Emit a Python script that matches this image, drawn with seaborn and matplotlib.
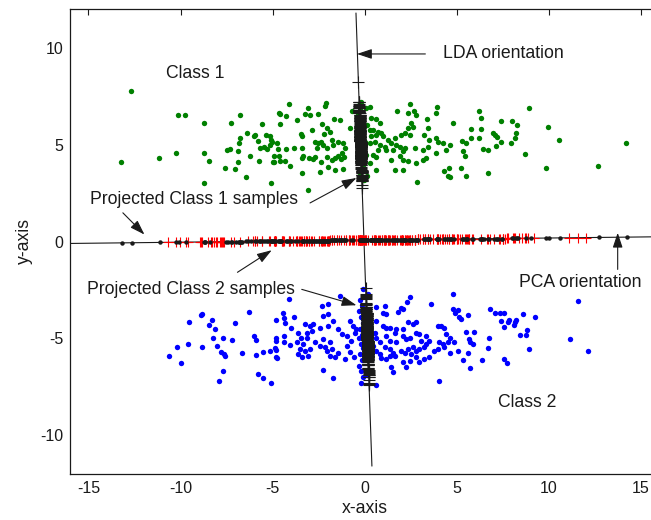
import numpy as np
import matplotlib
matplotlib.use("Agg")
import matplotlib.pyplot as plt
import seaborn as sns
import pandas as pd

# ---------------- data ----------------
class1_points = [
    (-12.70, 7.78), (-13.22, 4.08), (-11.15, 4.29), (-10.27, 4.58), (-10.13, 6.53), (-9.77, 6.53),
    (-8.74, 6.10), (-8.74, 4.58), (-8.44, 4.15), (-8.74, 3.03), (-7.27, 6.10), (-6.75, 6.53),
    (-6.39, 5.62), (-6.75, 5.33), (-6.84, 5.06), (-7.47, 4.72), (-7.32, 4.78), (-6.89, 4.65),
    (-6.89, 4.08), (-7.56, 3.81), (-7.05, 3.74), (-6.24, 4.42), (-6.46, 3.31), (-5.57, 6.05),
    (-5.99, 5.45), (-5.94, 5.49), (-5.81, 5.20), (-5.67, 4.84), (-5.45, 4.90), (-5.31, 4.77),
    (-5.13, 4.99), (-5.36, 5.50), (-5.16, 5.42), (-5.07, 5.25), (-5.72, 4.15), (-4.93, 4.08),
    (-5.07, 3.03), (-4.68, 6.62), (-4.59, 6.05),
    (-4.10, 7.08), (-4.62, 6.60), (-4.26, 6.47), (-3.09, 6.88), (-3.24, 6.60), (-2.95, 6.53),
    (-2.52, 6.60), (-2.10, 7.15), (-2.16, 7.01), (-3.67, 6.26), (-1.67, 6.33), (-1.35, 6.26),
    (-2.30, 6.05), (-2.07, 5.85), (-1.89, 5.64), (-2.21, 5.56), (-2.88, 5.76), (-3.47, 5.56),
    (-3.42, 5.42), (-5.04, 5.16), (-4.77, 5.08), (-4.26, 4.77), (-4.69, 4.77), (-3.82, 4.85),
    (-3.38, 4.85), (-2.68, 5.13), (-2.52, 5.08), (-2.39, 5.16), (-2.61, 4.82), (-2.25, 4.99),
    (-2.07, 4.82), (-1.80, 5.25), (-1.44, 5.13), (-1.20, 5.08), (-1.71, 4.99), (-1.08, 4.82),
    (-1.26, 4.56), (-0.81, 5.85), (-0.69, 6.74), (-4.91, 4.42), (-4.64, 4.42), (-4.98, 4.08),
    (-4.59, 4.13), (-4.33, 4.17), (-4.05, 3.91), (-3.42, 4.31), (-3.36, 4.39), (-3.02, 4.32),
    (-2.79, 4.25), (-2.71, 4.36), (-2.39, 4.08), (-2.07, 4.36), (-1.80, 4.22), (-1.62, 4.31),
    (-1.44, 4.42), (-1.31, 4.25), (-1.13, 4.36), (-3.38, 3.53), (-2.43, 3.60), (-1.98, 3.87),
    (-1.62, 3.67), (-1.17, 3.74), (-3.09, 2.67),
    (0.36, 6.36), (0.63, 6.31), (0.81, 6.10), (0.27, 5.76), (0.45, 5.76), (0.72, 5.67),
    (0.90, 5.59), (0.36, 5.42), (0.63, 5.50), (0.99, 5.42), (0.27, 5.08), (0.54, 5.16),
    (0.81, 4.99), (0.72, 4.73), (1.08, 4.90), (0.45, 4.48), (0.63, 4.36), (0.27, 4.05),
    (0.59, 3.67), (1.26, 5.25), (1.44, 5.08), (1.62, 5.33), (1.71, 4.99), (1.74, 6.74),
    (1.17, 4.73), (1.53, 4.73), (1.89, 4.90), (2.07, 4.65), (2.16, 4.82), (1.44, 4.22),
    (1.89, 4.39), (2.07, 4.22), (2.34, 4.13), (1.62, 3.67), (2.10, 3.67), (2.84, 3.05),
    (1.98, 5.50), (2.16, 5.59), (2.43, 5.50), (2.48, 7.08), (2.70, 6.74), (2.79, 6.53),
    (2.37, 6.62), (2.52, 6.10), (2.34, 5.85), (2.61, 5.93), (3.36, 6.33), (3.42, 5.85),
    (3.24, 5.50), (3.51, 5.25), (3.87, 5.33), (3.96, 5.16), (2.73, 4.82), (3.15, 4.73),
    (3.42, 4.90), (3.87, 4.56), (2.79, 4.05), (3.15, 4.22), (3.33, 4.31), (4.32, 3.62),
    (4.50, 3.36), (3.90, 6.93), (3.87, 6.62), (4.23, 5.08), (4.41, 4.73),
    (4.77, 6.10), (4.64, 4.99), (4.59, 3.79), (4.64, 3.31), (5.27, 5.20), (5.49, 5.08),
    (5.34, 4.65), (5.43, 4.42), (5.22, 3.79), (5.50, 3.38), (5.79, 5.83), (5.79, 5.33),
    (6.22, 6.74), (6.30, 6.39), (6.30, 5.83), (6.22, 5.33), (6.44, 4.78), (6.67, 4.72),
    (6.67, 3.51), (6.95, 5.62), (7.07, 5.52), (7.20, 5.40), (7.41, 6.24), (7.41, 5.13),
    (7.11, 4.92), (7.99, 6.24), (8.27, 6.03), (8.20, 5.62), (8.13, 5.33), (7.92, 5.06),
    (8.94, 6.88), (8.72, 4.51), (9.96, 5.90), (10.56, 5.26), (9.82, 3.79), (12.68, 3.92),
    (14.16, 5.06), (-0.18, 7.22), (0.27, 6.96),
    (-0.30, 7.05), (-0.25, 6.80), (-0.35, 6.55), (-0.20, 6.20), (-0.30, 5.95), (-0.15, 5.70),
    (-0.25, 5.45), (-0.10, 5.25), (-0.30, 5.00), (-0.20, 4.80), (-0.15, 4.60), (-0.30, 4.35),
    (-0.20, 4.10), (-0.10, 3.85), (-0.25, 3.55), (-0.15, 3.30), (0.05, 6.90), (0.10, 6.00),
    (0.00, 5.15), (0.05, 4.45), (0.10, 3.40), (-0.05, 3.15),
]

class2_points = [
    (-10.63, -5.93), (-10.20, -5.44), (-9.98, -6.26), (-9.62, -5.30), (-9.53, -4.18), (-8.90, -3.81),
    (-8.81, -3.74), (-8.81, -5.44), (-8.46, -4.32), (-8.29, -4.03), (-8.15, -4.53), (-8.22, -4.96),
    (-7.72, -4.96), (-8.00, -5.37), (-7.79, -5.71), (-7.65, -5.80), (-7.56, -5.93), (-7.72, -6.69),
    (-7.93, -7.19), (-7.19, -5.09), (-7.05, -4.23), (-6.69, -5.78), (-6.31, -3.62), (-6.03, -4.87),
    (-5.88, -5.09), (-5.88, -5.86), (-5.79, -6.83), (-5.50, -7.03), (-5.07, -7.32), (-5.50, -5.71),
    (-5.14, -5.64), (-4.86, -5.52), (-4.77, -6.00), (-4.84, -4.05), (-4.84, -4.96), (-4.84, -5.14),
    (-4.10, -2.98), (-4.37, -3.96), (-4.46, -3.69), (-4.35, -4.22), (-3.83, -3.89), (-4.01, -4.49),
    (-4.41, -4.87), (-4.41, -5.21), (-4.05, -5.33), (-4.80, -5.59), (-4.80, -5.98),
    (-3.65, -4.70), (-3.47, -4.96), (-3.24, -4.27), (-3.15, -4.70), (-2.97, -4.36), (-2.79, -4.27),
    (-2.88, -4.61), (-3.11, -4.96), (-3.69, -5.21), (-3.33, -5.30), (-3.51, -5.56), (-3.24, -5.64),
    (-2.97, -5.56), (-3.06, -5.93), (-3.42, -5.98), (-3.60, -5.81), (-2.70, -5.21), (-2.43, -5.39),
    (-2.25, -5.04), (-2.16, -5.47), (-1.89, -5.21), (-2.07, -5.64), (-1.80, -5.56), (-1.89, -5.90),
    (-1.62, -5.98), (-1.44, -5.73), (-2.34, -3.33), (-1.98, -3.24), (-2.25, -3.84), (-1.98, -3.76),
    (-1.71, -4.10), (-1.98, -4.36), (-2.43, -4.44), (-1.35, -2.81), (-1.44, -4.53), (-1.26, -4.78),
    (-0.99, -4.87), (-0.81, -4.10), (-0.63, -4.36), (-0.54, -4.70), (-0.45, -4.53), (-0.72, -5.13),
    (-0.95, -5.39), (-0.81, -5.69), (-0.59, -5.98), (-2.25, -6.62), (-1.71, -7.05), (-1.08, -6.07),
    (0.59, -3.38), (1.08, -3.33), (0.99, -3.67), (1.17, -3.76), (1.80, -3.62), (2.07, -3.50),
    (1.98, -3.41), (2.47, -2.84), (2.30, -3.12), (0.63, -4.10), (0.99, -4.36), (1.17, -4.44),
    (1.35, -4.44), (1.71, -4.53), (1.62, -4.70), (2.07, -4.53), (2.34, -4.18), (2.61, -4.27),
    (2.79, -4.18), (0.54, -4.70), (0.63, -4.96), (0.81, -5.21), (1.17, -4.87), (1.35, -5.13),
    (1.71, -5.21), (2.07, -4.87), (2.25, -5.04), (2.43, -4.96), (2.79, -4.70), (2.97, -4.78),
    (3.06, -5.13), (3.33, -4.87), (0.45, -5.39), (0.63, -5.64), (0.81, -5.81), (1.08, -5.47),
    (1.35, -5.56), (1.53, -5.73), (1.62, -5.90), (1.98, -5.64), (2.16, -5.73), (2.34, -5.56),
    (2.52, -5.81), (2.61, -5.47), (2.79, -5.64), (2.97, -5.56), (3.24, -5.47), (3.33, -5.30),
    (3.51, -5.13), (3.78, -5.64), (3.96, -5.56), (4.05, -5.21), (4.23, -5.30), (4.32, -5.47),
    (4.50, -5.21), (0.90, -6.02), (1.17, -6.07), (1.35, -5.90), (1.44, -6.50), (1.53, -6.75),
    (2.07, -6.24), (2.25, -6.50), (2.43, -6.16), (2.79, -5.98), (2.97, -6.24), (3.24, -6.07),
    (3.51, -5.98), (4.05, -7.19), (0.59, -7.41), (3.60, -3.24), (3.96, -4.36), (4.14, -4.36),
    (4.32, -4.49), (4.41, -4.78),
    (4.77, -2.71), (4.80, -3.46), (5.04, -3.55), (4.91, -3.67), (5.09, -3.89), (5.22, -3.98),
    (5.58, -3.81), (4.64, -4.96), (4.84, -5.21), (4.64, -5.73), (5.07, -5.64), (5.36, -6.12),
    (5.58, -5.78), (5.49, -4.66), (5.94, -4.66), (5.67, -5.04), (5.70, -5.18), (5.88, -5.30),
    (5.72, -6.55), (6.37, -6.12), (6.67, -5.50), (6.75, -4.96), (6.82, -3.46), (7.05, -3.69),
    (7.34, -3.69), (7.56, -3.69), (7.41, -4.12), (7.56, -4.39), (7.83, -4.05), (7.75, -4.15),
    (8.10, -4.30), (8.22, -4.05), (8.15, -4.18), (8.58, -3.76), (9.25, -3.89), (8.42, -4.82),
    (8.73, -4.82), (8.81, -4.58), (8.94, -5.57), (7.56, -6.07), (7.70, -6.28), (11.60, -3.07),
    (11.15, -5.02), (12.10, -5.66), (-0.09, -2.43),
    (-0.25, -3.0), (-0.15, -3.3), (-0.30, -3.6), (-0.20, -3.9), (-0.10, -4.2), (-0.25, -4.5),
    (-0.15, -4.8), (-0.30, -5.0), (-0.20, -5.3), (-0.10, -5.5), (-0.25, -5.8), (-0.15, -6.1),
    (-0.30, -6.4), (-0.20, -6.7), (-0.10, -7.0), (0.10, -3.5), (0.05, -4.4), (0.15, -5.2),
    (0.00, -6.0), (0.10, -6.9), (-0.20, -7.3), (0.20, -2.7),
]

# orientation lines (point on line, direction)
pca_origin = (0.0, 0.072)
pca_direction = (1.0, 0.0108)
lda_origin = (-0.04, 0.0)
lda_direction = (-0.037, 1.0)

x_ticks = [-15, -10, -5, 0, 5, 10, 15]
y_ticks = [-10, -5, 0, 5, 10]

# ---------------- helpers ----------------
def project(points, origin, direction):
    p = np.asarray(points, float)
    o = np.asarray(origin, float)
    d = np.asarray(direction, float)
    d = d / np.linalg.norm(d)
    t = (p - o) @ d
    return o + np.outer(t, d)

c1 = np.array(class1_points)
c2 = np.array(class2_points)
df1 = pd.DataFrame({"x": c1[:, 0], "y": c1[:, 1]})
df2 = pd.DataFrame({"x": c2[:, 0], "y": c2[:, 1]})

pca1 = project(c1, pca_origin, pca_direction)
pca2 = project(c2, pca_origin, pca_direction)
lda_all = project(np.vstack([c1, c2]), lda_origin, lda_direction)

# ---------------- figure ----------------
sns.set_theme(style="white")
plt.rcParams["font.family"] = ["Liberation Sans", "DejaVu Sans"]
plt.rcParams["text.color"] = "black"
plt.rcParams["axes.labelcolor"] = "black"
plt.rcParams["xtick.color"] = "black"
plt.rcParams["ytick.color"] = "black"

fig = plt.figure(figsize=(6.51, 5.2), dpi=100)
ax = fig.add_axes([70 / 651, 46 / 520, 589.5 / 651, 465 / 520])

# data clouds
sns.scatterplot(data=df1, x="x", y="y", color="#008000", s=15, linewidth=0, ax=ax, zorder=2)
sns.scatterplot(data=df2, x="x", y="y", color="#0000FF", s=15, linewidth=0, ax=ax, zorder=2)

# orientation lines
po = np.array(pca_origin); pd_ = np.array(pca_direction) / np.linalg.norm(pca_direction)
lo = np.array(lda_origin); ld = np.array(lda_direction) / np.linalg.norm(lda_direction)
pl = np.array([po + t * pd_ for t in (-17, 17)])
ll = np.array([lo + t * ld for t in (-11.6, 11.8)])
ax.plot(pl[:, 0], pl[:, 1], color="k", lw=0.8, zorder=3)
ax.plot(ll[:, 0], ll[:, 1], color="k", lw=0.8, zorder=3)

# projections
ax.plot(pca2[:, 0], pca2[:, 1], linestyle="none", marker="+", color="#FF0000",
        markersize=7, markeredgewidth=0.8, zorder=4)
ax.plot(pca1[:, 0], pca1[:, 1], linestyle="none", marker="o", color="k",
        markersize=3.2, markeredgewidth=0, zorder=5)
ax.plot(lda_all[:, 0], lda_all[:, 1], linestyle="none", marker="+", color="k",
        markersize=8, markeredgewidth=0.8, zorder=6)

# axes styling
ax.set_xlim(-16, 16)
ax.set_ylim(-12, 12)
ax.set_xticks(x_ticks)
ax.set_yticks(y_ticks)
ax.set_xticklabels([str(v) for v in x_ticks])
ax.set_yticklabels([str(v) for v in y_ticks])
ax.tick_params(direction="in", length=4.3, width=0.8, top=True, right=True,
               labelsize=11.5, colors="k", pad=5)
for s in ax.spines.values():
    s.set_color("k")
    s.set_linewidth(0.9)
ax.set_xlabel("x-axis", fontsize=12.7, labelpad=3, color="k")
ax.set_ylabel("y-axis", fontsize=12.7, labelpad=5, color="k")

# annotations
fs = 12.7
ax.text(-10.79, 8.69, "Class 1", fontsize=fs, va="center", ha="left", color="k")
ax.text(7.23, -8.33, "Class 2", fontsize=fs, va="center", ha="left", color="k")
ax.text(4.26, 9.72, "LDA orientation", fontsize=fs, va="center", ha="left", color="k")
ax.text(8.36, -2.13, "PCA orientation", fontsize=fs, va="center", ha="left", color="k")
ax.text(-14.89, 2.18, "Projected Class 1 samples", fontsize=fs, va="center", ha="left", color="k")
ax.text(-15.06, -2.47, "Projected Class 2 samples", fontsize=fs, va="center", ha="left", color="k")

arrow = dict(arrowstyle="-|>,head_length=0.9,head_width=0.3", color="k", lw=0.8,
             mutation_scale=10, shrinkA=0, shrinkB=0)
arrows = [
    ((3.29, 9.68), (-0.42, 9.68)),
    ((-2.97, 1.99), (-0.45, 3.28)),
    ((-13.13, 1.48), (-11.96, 0.36)),
    ((-6.91, -1.59), (-5.05, -0.45)),
    ((-3.42, -2.47), (-0.45, -3.29)),
    ((13.73, -1.44), (13.73, 0.45)),
]
for start, end in arrows:
    ax.annotate("", xy=end, xytext=start, arrowprops=arrow, zorder=7)

fig.savefig("out.png", dpi=100)
